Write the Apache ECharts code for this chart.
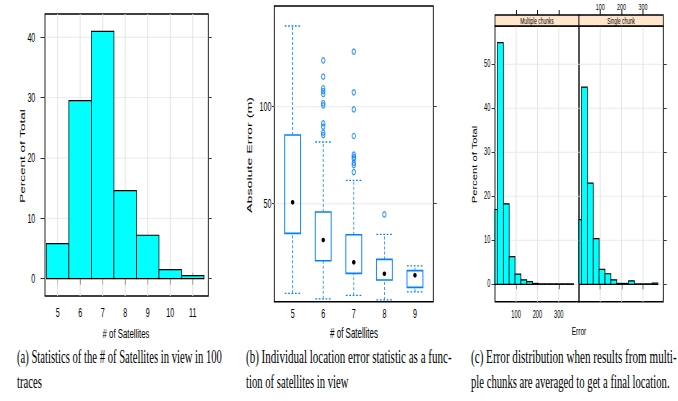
<!DOCTYPE html>
<html><head><meta charset="utf-8">
<script src="https://cdn.jsdelivr.net/npm/echarts@6/dist/echarts.min.js"></script>
<style>
html,body{margin:0;padding:0;width:678px;height:401px;overflow:hidden;background:#fff}
#c{width:1189.5px;height:401px;transform:scaleX(0.57);transform-origin:0 0}
</style></head><body><div id="c"></div>
<script>
// ---------------- data ----------------
// (a) histogram of number of satellites in view
const satCounts = [5, 6, 7, 8, 9, 10, 11];
const satPercent = [5.8, 29.5, 41.0, 14.6, 7.2, 1.5, 0.5];
const satTicksY = [0, 10, 20, 30, 40];

// (b) box plots of absolute error per satellite count
const boxCats = [5, 6, 7, 8, 9];
const boxLow = [3.8, 1.0, 2.8, 0.4, 4.6];
const boxQ1 = [34.7, 20.6, 14.1, 10.7, 6.9];
const boxMedian = [50.7, 31.3, 19.8, 13.9, 13.1];
const boxQ3 = [85.4, 45.7, 34.0, 21.3, 15.5];
const boxHigh = [141.6, 81.8, 62.0, 34.2, 18.0];
const outliers6 = [123.9, 115.5, 109.5, 108.0, 106.5, 101.8, 100.7, 91.4, 89.7, 86.6, 85.4];
const outliers7 = [128.4, 107.4, 98.6, 84.9, 75.3, 74.2, 73.2, 71.1, 69.9, 66.3];
const outliers8 = [44.5];
const errTicksY = [50, 100];

// (c) error distribution histograms
const errBinEdges = [-15, 12.5, 40, 67.5, 95, 122.5, 150, 177.5, 205, 232.5, 260, 287.5, 315, 342.5, 370];
const multiPercent = [17.0, 54.9, 18.3, 6.3, 2.3, 1.0, 0.6, 0.2, 0.1, 0.1, 0.1, 0.1, 0.1, 0.1];
const singlePercent = [14.7, 44.8, 23.0, 10.4, 3.4, 2.4, 1.0, 0.2, 0.2, 0.8, 0.1, 0.1, 0.1, 0.3];
const errTicksX = [100, 200, 300];
const pctTicksC = [0, 10, 20, 30, 40, 50];
const panelNames = ['Multiple chunks', 'Single chunk'];

// titles and captions
const titlesA = ['Percent of Total', '# of Satellites'];
const titlesB = ['Absolute Error (m)', '# of Satellites'];
const titlesC = ['Percent of Total', 'Error'];
const captionA = ['(a) Statistics of the # of Satellites in view in 100', 'traces'];
const captionB = ['(b) Individual location error statistic as a func-', 'tion of satellites in view'];
const captionC = ['(c) Error distribution when results from multi-', 'ple chunks are averaged to get a final location.'];

// ---------------- layout / style ----------------
const SX = 0.57;                 // horizontal compression of the whole figure
const L = px => px / SX;         // real px -> logical px
const BLUE = '#0080ff', CYAN = '#00ffff', GRIDC = '#e4e4e4';
const SANS = '"Liberation Sans", Arial, sans-serif';
const SERIF = '"Liberation Serif", "Times New Roman", serif';

const mctx = document.createElement('canvas').getContext('2d');
function measure(text, font) { mctx.font = font; return mctx.measureText(text).width; }

function tickAxis(o) {
  const base = {
    type: 'value', axisLine: { show: false }, splitLine: { show: false },
    axisLabel: { show: false }, axisTick: { show: false }
  };
  return Object.assign(base, o);
}
function ticks(vals, len, w) {
  return { show: true, customValues: vals, length: len, lineStyle: { color: '#000', width: w } };
}
function labels(vals, size, margin) {
  return { show: true, customValues: vals, fontSize: size, fontFamily: SANS, color: '#000', margin: margin };
}

function histSeries(xi, yi, data) {
  return {
    type: 'custom', xAxisIndex: xi, yAxisIndex: yi, z: 3, silent: true,
    data: data,
    renderItem: function (params, api) {
      const a = api.coord([api.value(0), api.value(2)]);
      const b = api.coord([api.value(1), 0]);
      const cs = params.coordSys;
      const shape = echarts.graphic.clipRectByRect(
        { x: a[0], y: a[1], width: b[0] - a[0], height: b[1] - a[1] },
        { x: cs.x, y: cs.y, width: cs.width, height: cs.height });
      if (!shape) return;
      return { type: 'rect', shape: shape, style: { fill: CYAN, stroke: '#000', lineWidth: 1.2 } };
    }
  };
}
function vLines(xi, yi, vals) {
  return {
    type: 'custom', xAxisIndex: xi, yAxisIndex: yi, z: 1, silent: true,
    data: vals.map(v => [v, 0]),
    renderItem: function (params, api) {
      const p = api.coord([api.value(0), api.value(1)]);
      const cs = params.coordSys;
      return { type: 'line', shape: { x1: p[0], y1: cs.y, x2: p[0], y2: cs.y + cs.height },
               style: { stroke: GRIDC, lineWidth: 1.7 } };
    }
  };
}
function hLines(xi, yi, vals, xref) {
  return {
    type: 'custom', xAxisIndex: xi, yAxisIndex: yi, z: 1, silent: true,
    data: vals.map(v => [xref, v]),
    renderItem: function (params, api) {
      const p = api.coord([api.value(0), api.value(1)]);
      const cs = params.coordSys;
      return { type: 'line', shape: { x1: cs.x, y1: p[1], x2: cs.x + cs.width, y2: p[1] },
               style: { stroke: GRIDC, lineWidth: 1 } };
    }
  };
}

const BOX_HALF = 0.26;
const boxData = boxCats.map((c, i) => [c, boxLow[i], boxQ1[i], boxMedian[i], boxQ3[i], boxHigh[i]]);
const outlierData = [].concat(
  outliers6.map(v => [6, v]), outliers7.map(v => [7, v]), outliers8.map(v => [8, v]));

const satData = satCounts.map((c, i) => [c - 0.5, c + 0.5, satPercent[i]]);
const multiData = multiPercent.map((v, i) => [errBinEdges[i], errBinEdges[i + 1], v]);
const singleData = singlePercent.map((v, i) => [errBinEdges[i], errBinEdges[i + 1], v]);

const GA = { left: L(45), top: 14, width: L(163.3), height: 282 };
const GB = { left: L(274.3), top: 6, width: L(159), height: 295.7 };
const GC1 = { left: L(495), top: 26, width: L(84), height: 275.7 };
const GC2 = { left: L(579), top: 26, width: L(84.3), height: 275.7 };
const gridStyle = { show: true, borderColor: '#000', borderWidth: 1.5, backgroundColor: 'transparent',
                    containLabel: false, outerBoundsMode: 'none' };

const A_X = [4.44, 11.69], A_Y = [-2.87, 43.87];
const B_X = [4.4, 9.6], B_Y = [-0.5, 151.9];
const C_X = [1, 395], C_Y = [-3.95, 58.7];

// ---------------- graphic texts ----------------
const graphics = [];
function hText(xReal, y, text, size, family) {
  graphics.push({ type: 'text', x: L(xReal), y: y, silent: true,
    style: { text: text, font: size + 'px ' + (family || SANS), fill: '#000',
             align: 'center', verticalAlign: 'middle', textAlign: 'center', textVerticalAlign: 'middle' } });
}
function vText(xReal, y, text, size) {
  graphics.push({ type: 'text', x: L(xReal), y: y, rotation: Math.PI / 2, silent: true,
    style: { text: text, font: size + 'px ' + SANS, fill: '#000',
             align: 'center', verticalAlign: 'middle', textAlign: 'center', textVerticalAlign: 'middle' } });
}
vText(21.7, 156, titlesA[0], 13.5);
hText(126, 333, titlesA[1], 13.7);
vText(248.7, 155, titlesB[0], 14.2);
hText(354, 333, titlesB[1], 14);
vText(475, 164.5, titlesC[0], 11.2);
hText(579, 331, titlesC[1], 11.5);

// strips of panel (c)
[[495, 84, panelNames[0]], [579, 84.3, panelNames[1]]].forEach(function (s) {
  graphics.push({ type: 'rect', silent: true, z: 10,
    shape: { x: L(s[0]), y: 15, width: L(s[1]), height: 11 },
    style: { fill: '#ffe5cc', stroke: '#000', lineWidth: 1.3 } });
  graphics.push({ type: 'text', x: L(s[0] + s[1] / 2), y: 20.7, silent: true, z: 11,
    style: { text: s[2], font: '8.5px ' + SANS, fill: '#000',
             align: 'center', verticalAlign: 'middle', textAlign: 'center', textVerticalAlign: 'middle' } });
});

// captions
const CAP_FONT_SIZE = 18.7;
const capFont = CAP_FONT_SIZE + 'px ' + SERIF;
[[captionA, 17, 205], [captionB, 246, 205.7], [captionC, 471, 205.7]].forEach(function (c) {
  const sc = L(c[2]) / measure(c[0][0], capFont);
  [[c[0][0], 356, sc], [c[0][1], 381, 1]].forEach(function (ln) {
    graphics.push({ type: 'text', x: L(c[1]), y: ln[1], scaleX: ln[2], silent: true,
      style: { text: ln[0], font: capFont, fill: '#000',
               align: 'left', verticalAlign: 'middle', textAlign: 'left', textVerticalAlign: 'middle' } });
  });
});

// ---------------- chart ----------------
const chart = echarts.init(document.getElementById('c'), null, { renderer: 'svg' });
chart.setOption({
  animation: false,
  backgroundColor: '#fff',
  grid: [Object.assign({}, gridStyle, GA), Object.assign({}, gridStyle, GB),
         Object.assign({}, gridStyle, GC1), Object.assign({}, gridStyle, GC2)],
  xAxis: [
    tickAxis({ gridIndex: 0, position: 'bottom', min: A_X[0], max: A_X[1],
      axisTick: ticks(satCounts, 6, 1.6), axisLabel: labels(satCounts, 12.5, 10) }),
    tickAxis({ gridIndex: 0, position: 'top', min: A_X[0], max: A_X[1],
      axisTick: ticks(satCounts, 6, 1.6) }),
    tickAxis({ gridIndex: 1, position: 'bottom', min: B_X[0], max: B_X[1],
      axisLabel: labels(boxCats, 12.5, 5) }),
    tickAxis({ gridIndex: 2, position: 'bottom', min: C_X[0], max: C_X[1],
      axisTick: ticks(errTicksX, 5, 1.6), axisLabel: labels(errTicksX, 10, 8) }),
    tickAxis({ gridIndex: 2, position: 'top', offset: 11, min: C_X[0], max: C_X[1],
      axisTick: ticks(errTicksX, 5, 1.6) }),
    tickAxis({ gridIndex: 3, position: 'bottom', min: C_X[0], max: C_X[1],
      axisTick: ticks(errTicksX, 5, 1.6) }),
    tickAxis({ gridIndex: 3, position: 'top', offset: 11, min: C_X[0], max: C_X[1],
      axisTick: ticks(errTicksX, 5, 1.6), axisLabel: labels(errTicksX, 9.5, 3.5) })
  ],
  yAxis: [
    tickAxis({ gridIndex: 0, position: 'left', min: A_Y[0], max: A_Y[1],
      axisTick: ticks(satTicksY, 8, 1), axisLabel: labels(satTicksY, 12.5, 17) }),
    tickAxis({ gridIndex: 0, position: 'right', min: A_Y[0], max: A_Y[1],
      axisTick: ticks(satTicksY, 6, 1) }),
    tickAxis({ gridIndex: 1, position: 'left', min: B_Y[0], max: B_Y[1],
      axisTick: ticks(errTicksY, 4, 1), axisLabel: labels(errTicksY, 12.5, 5) }),
    tickAxis({ gridIndex: 1, position: 'right', min: B_Y[0], max: B_Y[1],
      axisTick: ticks(errTicksY, 6, 1) }),
    tickAxis({ gridIndex: 2, position: 'left', min: C_Y[0], max: C_Y[1],
      axisTick: ticks(pctTicksC, 6, 1), axisLabel: labels(pctTicksC, 10, 8) }),
    tickAxis({ gridIndex: 3, position: 'right', min: C_Y[0], max: C_Y[1],
      axisTick: ticks(pctTicksC, 6, 1) })
  ],
  graphic: { elements: graphics },
  series: [
    // panel (a)
    vLines(0, 0, satCounts), hLines(0, 0, satTicksY, 5),
    histSeries(0, 0, satData),
    // panel (b)
    hLines(2, 2, errTicksY, 5),
    {
      type: 'custom', xAxisIndex: 2, yAxisIndex: 2, z: 3, silent: true, data: boxData,
      renderItem: function (params, api) {
        const x = api.value(0);
        const lo = api.coord([x, api.value(1)]), q1 = api.coord([x, api.value(2)]);
        const md = api.coord([x, api.value(3)]), q3 = api.coord([x, api.value(4)]);
        const hi = api.coord([x, api.value(5)]);
        const half = api.coord([x + BOX_HALF, 0])[0] - lo[0];
        const dash = { stroke: BLUE, lineWidth: 1.3, lineDash: [3, 2], fill: null };
        const dot = { stroke: BLUE, lineWidth: 1.3, lineDash: [3, 3], fill: null };
        return { type: 'group', children: [
          { type: 'line', shape: { x1: lo[0], y1: lo[1], x2: q1[0], y2: q1[1] }, style: dash },
          { type: 'line', shape: { x1: q3[0], y1: q3[1], x2: hi[0], y2: hi[1] }, style: dash },
          { type: 'line', shape: { x1: lo[0] - half, y1: lo[1], x2: lo[0] + half, y2: lo[1] }, style: dot },
          { type: 'line', shape: { x1: hi[0] - half, y1: hi[1], x2: hi[0] + half, y2: hi[1] }, style: dot },
          { type: 'rect', shape: { x: q3[0] - half, y: q3[1], width: 2 * half, height: q1[1] - q3[1] },
            style: { fill: 'rgba(255,255,255,0)', stroke: BLUE, lineWidth: 1.6 } },
          { type: 'circle', x: md[0], y: md[1], scaleX: 1.35, shape: { cx: 0, cy: 0, r: 2.3 },
            style: { fill: '#000' } }
        ] };
      }
    },
    {
      type: 'scatter', xAxisIndex: 2, yAxisIndex: 2, z: 4, silent: true, data: outlierData,
      symbol: 'circle', symbolSize: [6, 5.2],
      itemStyle: { color: 'rgba(255,255,255,0)', borderColor: BLUE, borderWidth: 1.5 }
    },
    // panel (c) left: multiple chunks
    vLines(3, 4, errTicksX), hLines(3, 4, pctTicksC, 100),
    histSeries(3, 4, multiData),
    // panel (c) right: single chunk
    vLines(5, 5, errTicksX), hLines(5, 5, pctTicksC, 100),
    histSeries(5, 5, singleData)
  ]
});
</script></body></html>
